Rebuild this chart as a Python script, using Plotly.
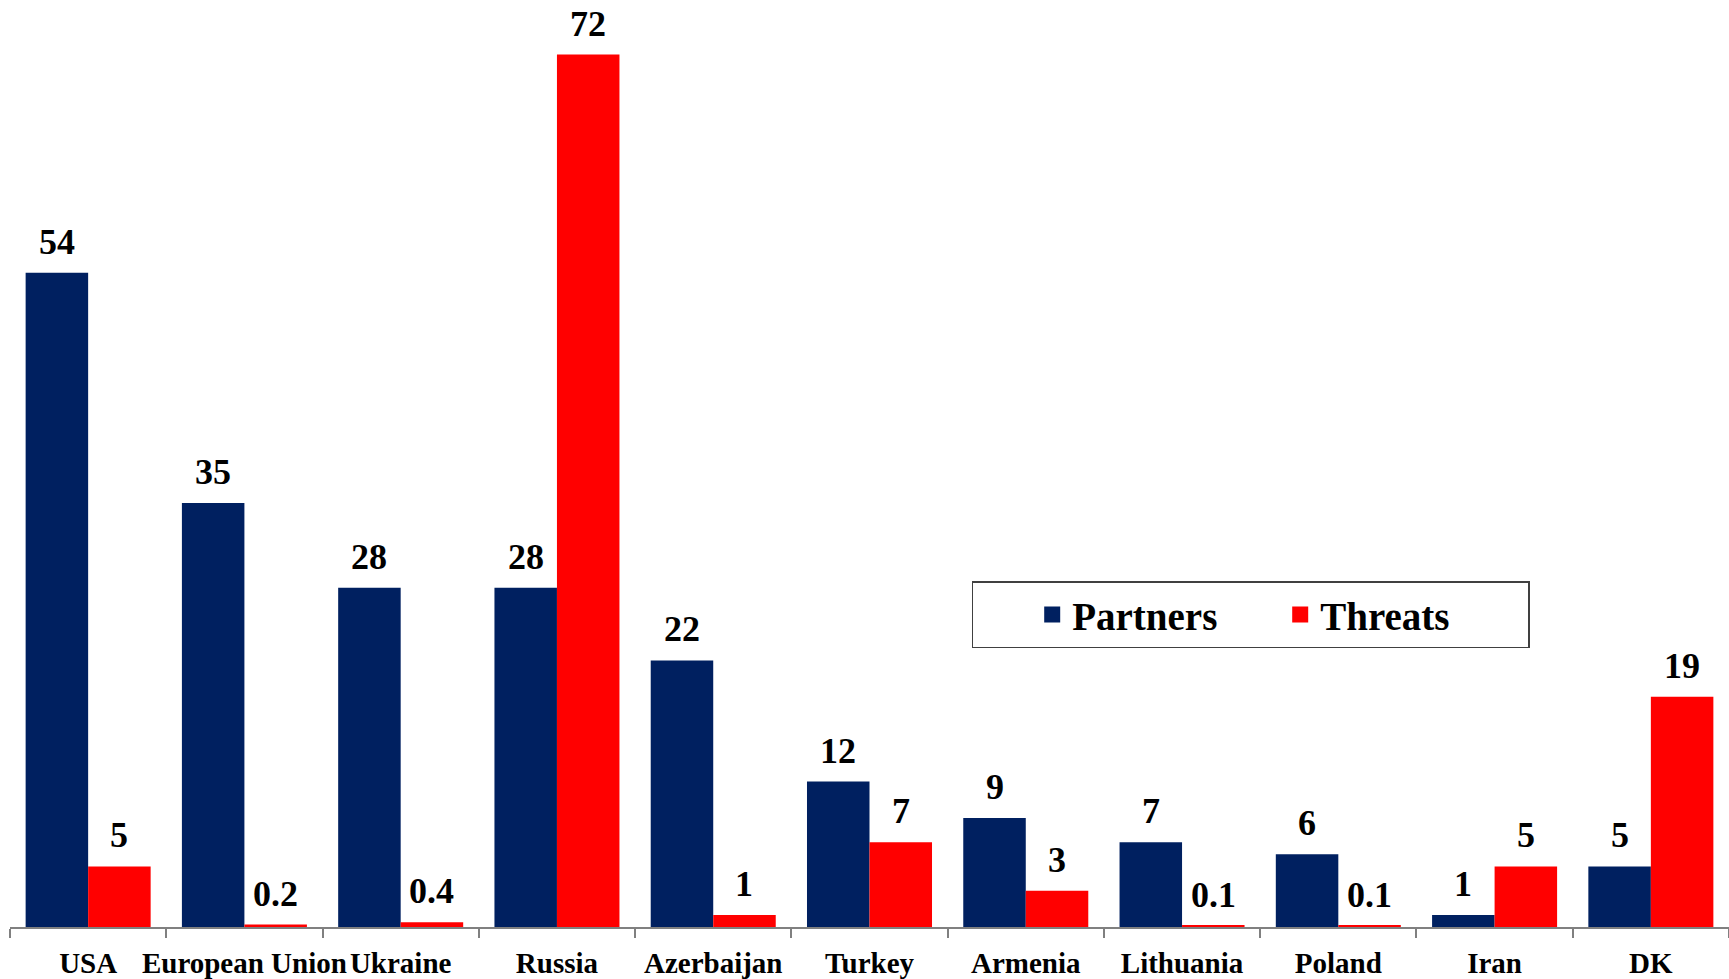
"""Partners vs threats grouped bar chart."""

import plotly.graph_objects as go

countries = ["USA", "European Union", "Ukraine", "Russia", "Azerbaijan", "Turkey",
             "Armenia", "Lithuania", "Poland", "Iran", "DK"]
partners = [54, 35, 28, 28, 22, 12, 9, 7, 6, 1, 5]
threats = [5, 0.2, 0.4, 72, 1, 7, 3, 0.1, 0.1, 5, 19]

NAVY = "#002060"
RED = "#FF0000"
FONT = "Liberation Serif"

W, H = 1729, 979
MARGIN = dict(l=10, r=0, t=0, b=52)
BARGAP = 0.2

# horizontal offset of each bar centre from its category centre, in px
_cat_px = (W - MARGIN["l"] - MARGIN["r"]) / len(countries)
_half = _cat_px * (1 - BARGAP) / 4

_LABEL = dict(family=FONT, size=36, color="black", weight="bold")

series = [("Partners", partners, NAVY, -_half), ("Threats", threats, RED, _half)]

fig = go.Figure()
annotations = []
for name, vals, color, shift in series:
    fig.add_trace(
        go.Bar(
            x=countries,
            y=vals,
            name=name,
            showlegend=False,
            marker=dict(color=color, line=dict(width=0)),
            hoverinfo="x+y+name",
        )
    )
    # legend proxy: bigger square swatch than the bar icon
    fig.add_trace(
        go.Scatter(
            x=[None],
            y=[None],
            mode="markers",
            name=name,
            marker=dict(symbol="square", size=16, color=color),
        )
    )
    for c, v in zip(countries, vals):
        annotations.append(
            dict(
                x=c, y=v, text=f"{v:g}", showarrow=False,
                xanchor="center", yanchor="bottom",
                xshift=shift, yshift=9, font=_LABEL,
            )
        )

fig.update_layout(
    barmode="group",
    bargap=BARGAP,
    bargroupgap=0,
    width=W,
    height=H,
    margin=MARGIN,
    plot_bgcolor="white",
    paper_bgcolor="white",
    annotations=annotations,
    xaxis=dict(
        showline=True,
        linecolor="#808080",
        linewidth=2,
        ticks="outside",
        tickson="boundaries",
        ticklen=9,
        tickcolor="#808080",
        tickwidth=2,
        tickangle=0,
        ticklabelstandoff=9,
        tickfont=dict(family=FONT, size=29, color="black", weight="bold"),
        automargin=False,
    ),
    yaxis=dict(
        range=[0, 76.5],
        visible=False,
        showgrid=False,
        zeroline=False,
    ),
    legend=dict(
        orientation="h",
        x=0.5596,
        xanchor="left",
        y=0.373,
        yanchor="top",
        bordercolor="#404040",
        borderwidth=1.5,
        bgcolor="white",
        font=dict(family=FONT, size=39, color="black", weight="bold"),
        title=dict(text="\u00a0" * 5, font=dict(family=FONT, size=39)),
        entrywidth=203,
        itemwidth=30,
    ),
)

fig.write_html(
    "out.html",
    config={"displayModeBar": False},
    post_script="document.body.style.margin='0';",
)
